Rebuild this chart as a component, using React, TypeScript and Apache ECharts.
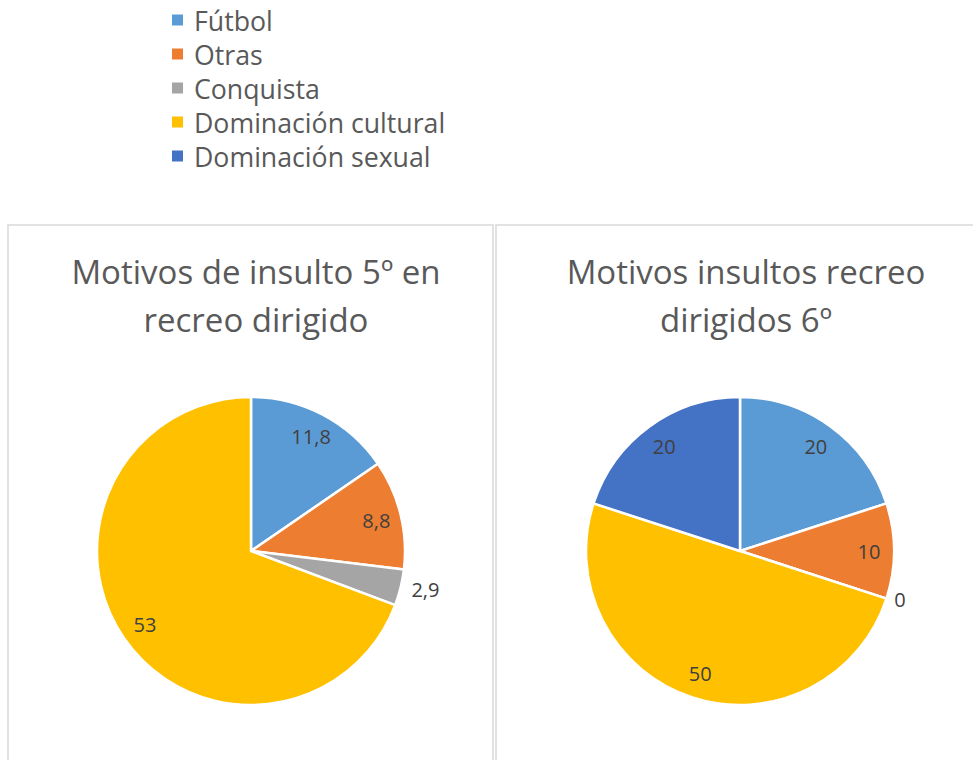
import React, { useEffect, useRef } from 'react';
import * as echarts from 'echarts';

const categories = ['Fútbol', 'Otras', 'Conquista', 'Dominación cultural', 'Dominación sexual'];
const values5: (number | null)[] = [11.8, 8.8, 2.9, 53, null];
const values6: (number | null)[] = [20, 10, 0, 50, 20];
const colors = ['#5B9BD5', '#ED7D31', '#A5A5A5', '#FFC000', '#4472C4'];
const titles = ['Motivos de insulto 5º en\nrecreo dirigido', 'Motivos insultos recreo\ndirigidos 6º'];

const FONT = '"Open Sans", sans-serif';
const fmt = (v: number) => String(v).replace('.', ',');

const pies = [
  { values: values5, center: [251, 551], outsideLen: 6 },
  { values: values6, center: [740, 551], outsideLen: 3 },
];

export default function App() {
  const ref = useRef<HTMLDivElement>(null);
  useEffect(() => {
    if (!ref.current) return;
    const chart = echarts.init(ref.current, undefined, { renderer: 'svg' });
    const series: any[] = [];
    pies.forEach((p, pi) => {
      series.push({
        type: 'pie',
        name: 'pie' + pi,
        center: p.center,
        radius: [0, 154],
        startAngle: 90,
        clockwise: true,
        silent: true,
        label: { show: false },
        labelLine: { show: false },
        emphasis: { disabled: true },
        itemStyle: { borderColor: '#ffffff', borderWidth: 2.5 },
        data: categories.map((c, i) => ({
          name: c,
          value: p.values[i] === null ? '-' : p.values[i],
          itemStyle: { color: colors[i] },
        })),
      });
    });
    pies.forEach((p, pi) => {
      const total = p.values.reduce((s: number, v) => s + (v ?? 0), 0);
      series.push({
        type: 'pie',
        name: 'labels' + pi,
        center: p.center,
        radius: [98, 154],
        startAngle: 90,
        clockwise: true,
        silent: true,
        avoidLabelOverlap: false,
        emphasis: { disabled: true },
        itemStyle: { color: 'rgba(0,0,0,0)', borderWidth: 0 },
        labelLine: { show: false, length: p.outsideLen, length2: 0 },
        label: {
          show: true,
          position: 'inside',
          fontFamily: FONT,
          fontSize: 20,
          color: '#404040',
          formatter: (d: any) => fmt(d.value),
        },
        data: categories.map((c, i) => {
          const v = p.values[i];
          const small = v !== null && (v as number) / total < 0.05;
          return {
            name: c,
            value: v === null ? '-' : v,
            itemStyle: { color: 'rgba(0,0,0,0)' },
            label: small ? { position: 'outside' } : undefined,
          };
        }),
      });
    });
    const titleStyle = { fontFamily: FONT, fontSize: 33, fontWeight: 'normal', color: '#595959', lineHeight: 48 };
    chart.setOption({
      animation: false,
      backgroundColor: '#ffffff',
      color: colors,
      legend: {
        orient: 'vertical',
        left: 167,
        top: -2,
        itemWidth: 11,
        itemHeight: 11,
        itemGap: 0,
        icon: 'rect',
        selectedMode: false,
        data: categories,
        itemStyle: { borderWidth: 0 },
        textStyle: {
          fontFamily: FONT,
          fontSize: 26.7,
          color: '#595959',
          lineHeight: 34,
          padding: [0, 0, 0, 6],
        },
      },
      title: [
        { text: titles[0], left: 251, top: 242, textAlign: 'center', textStyle: titleStyle },
        { text: titles[1], left: 741, top: 242, textAlign: 'center', textStyle: titleStyle },
      ],
      graphic: [
        {
          type: 'rect',
          silent: true,
          shape: { x: 8, y: 225, width: 485, height: 600 },
          style: { fill: 'none', stroke: '#D9D9D9', lineWidth: 1.5 },
        },
        {
          type: 'rect',
          silent: true,
          shape: { x: 496, y: 225, width: 520, height: 600 },
          style: { fill: 'none', stroke: '#D9D9D9', lineWidth: 1.5 },
        },
      ],
      series,
    });
    return () => chart.dispose();
  }, []);
  return (
    <div
      ref={ref}
      style={{ position: 'fixed', left: 0, top: 0, width: 973, height: 760 }}
    />
  );
}
